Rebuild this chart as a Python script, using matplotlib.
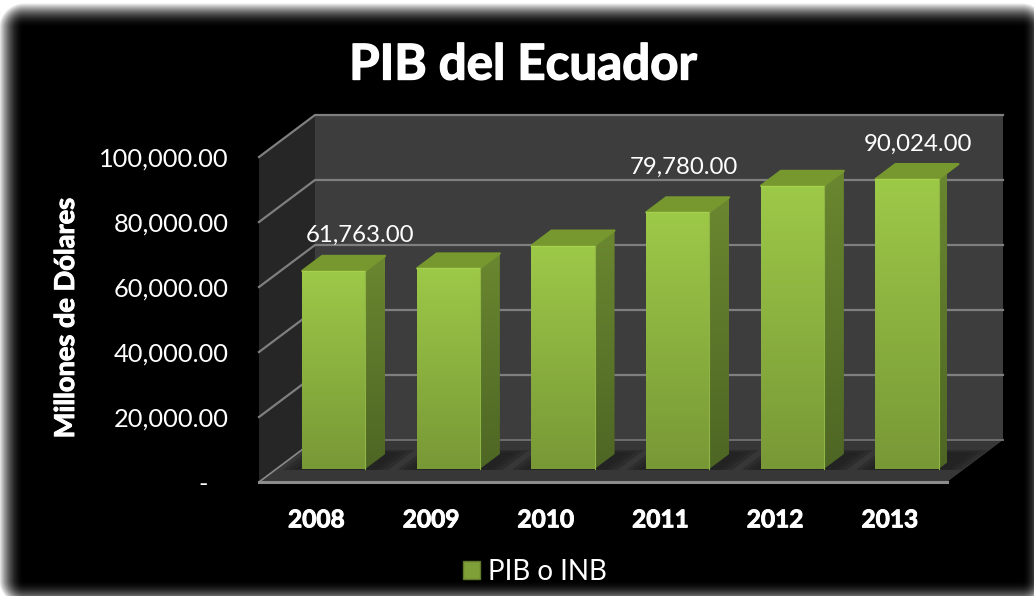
import numpy as np
import matplotlib
matplotlib.use('Agg')
import matplotlib.pyplot as plt
import matplotlib.patheffects as pe
from matplotlib.patches import Polygon, Patch

# DATA
years = ['2008', '2009', '2010', '2011', '2012', '2013']
pib = [61763, 62520, 69555, 79780, 87925, 90024]
y_ticks = [0, 20000, 40000, 60000, 80000, 100000]
y_labels = ['-   ', '20,000.00', '40,000.00', '60,000.00', '80,000.00', '100,000.00']
label_years = ['2008', '2011', '2013']
label_shift = [(26, 33), (6, 42), (11, 32)]   # px from the bar's front top centre

W, H = 1034, 596
plt.rcParams['font.family'] = ['Lato', 'DejaVu Sans']

fig = plt.figure(figsize=(W / 100, H / 100), dpi=100, facecolor='white')

# fondo: black panel with soft white border
bg = fig.add_axes([0, 0, 1, 1])
px, py = np.meshgrid(np.arange(W) + 0.5, np.arange(H) + 0.5)
ox = np.maximum(np.maximum(24 - px, px - 1022), 0)
oy = np.maximum(np.maximum(28 - py, py - 580), 0)
d = np.hypot(ox, oy)
shade = np.clip(d / 25, 0, 1) ** 2
bg.imshow(shade, cmap='gray', vmin=0, vmax=1, aspect='auto', interpolation='bilinear')
bg.axis('off')

# front plane of the chart box
ax = fig.add_axes([259 / W, (H - 482) / H, 688 / W, 325 / H])
ax.patch.set_alpha(0)

# depth 1 = back wall
DX = 56 / 688 * 6
DY = 42 / 325 * 100000
bold = [pe.withStroke(linewidth=0.7, foreground='white')]


def proj(x, y, depth):
    return (x + depth * DX, y + depth * DY)


def flat(verts, color, z, alpha=1.0, lw=0):
    ax.add_patch(Polygon(verts, closed=True, fc=color, ec=color if lw else 'none', lw=lw, alpha=alpha,
                         joinstyle='round', zorder=z, clip_on=False))


def gradient(verts, top, bottom, z):
    xs = [v[0] for v in verts]
    ys = [v[1] for v in verts]
    grad = np.linspace(0, 1, 128)[:, None, None]
    img = (1 - grad) * np.array(top)[None, None, :] + grad * np.array(bottom)[None, None, :]
    im = ax.imshow(img / 255, extent=[min(xs), max(xs), min(ys), max(ys)], aspect='auto', zorder=z)
    clip = Polygon(verts, closed=True, transform=ax.transData)
    im.set_clip_path(clip)


# walls
flat([proj(0, 0, 1), proj(6, 0, 1), proj(6, 100000, 1), proj(0, 100000, 1)], '#3d3d3d', 1)
flat([proj(0, 0, 0), proj(0, 0, 1), proj(0, 100000, 1), proj(0, 100000, 0)], '#262626', 1)
flat([proj(0, 0, 0), proj(6, 0, 0), proj(6, 0, 1), proj(0, 0, 1)], '#373737', 1)

# gridlines
for v in y_ticks:
    p0, p1, p2 = proj(0, v, 0), proj(0, v, 1), proj(6, v, 1)
    if v > 0:
        ax.plot([p0[0], p1[0], p2[0]], [p0[1], p1[1], p2[1]], color='#7f7f7f', lw=1.6,
                zorder=2, clip_on=False, solid_joinstyle='miter')
    else:
        ax.plot([p1[0], p2[0]], [p1[1], p2[1]], color='#6e6e6e', lw=1.4, zorder=2, clip_on=False)
        ax.plot([p0[0], p1[0]], [p0[1], p1[1]], color='#8a8a8a', lw=1.2, zorder=2, clip_on=False)
ax.plot([0, 6], [0, 0], color='#8c8c8c', lw=2.2, zorder=6, clip_on=False)

# bars
bar_w = 0.55
d0, d1 = 0.31, 0.667
bevel = 800   # the rounded top edge sits a little under the value
for i, v in enumerate(pib):
    l = i + 0.5 - bar_w / 2
    r = i + 0.5 + bar_w / 2
    v = v - bevel
    # soft shadow on the floor
    for grow in (0.16, 0.11, 0.06):
        flat([proj(l - grow, 0, d0 - 0.02), proj(r + grow + 0.05, 0, d0 - 0.02),
              proj(r + grow + 0.05, 0, d1 + grow * 0.6), proj(l - grow, 0, d1 + grow * 0.6)],
             '#1e1e1e', 3, alpha=0.4)
    # side
    gradient([proj(r, 0, d0), proj(r, 0, d1), proj(r, v, d1), proj(r, v, d0)],
             (106, 135, 48), (78, 102, 36), 4)
    # top
    flat([proj(l, v, d0), proj(r, v, d0), proj(r, v, d1), proj(l, v, d1)], '#76982f', 4, lw=1.5)
    # front
    gradient([proj(l, 0, d0), proj(r, 0, d0), proj(r, v, d0), proj(l, v, d0)],
             (157, 201, 72), (120, 152, 54), 5)
    a, b, c = proj(l, 0, d0), proj(r, v, d0), proj(l, v, d0)
    ax.plot([c[0], b[0]], [c[1], b[1]], color='#a6d04e', lw=1.0, zorder=5, clip_on=False)
    ax.plot([b[0], b[0]], [b[1], a[1]], color='#8fb545', lw=0.8, zorder=5, clip_on=False)

ax.set_xlim(0, 6)
ax.set_ylim(0, 100000)

# data labels
for yr, (sx, sy) in zip(label_years, label_shift):
    i = years.index(yr)
    top = proj(i + 0.5, pib[i], d0)
    ax.annotate(f'{pib[i]:,.2f}', xy=top, xytext=(sx * 0.72, sy * 0.72), textcoords='offset points',
                color='white', fontsize=17.3, ha='center', va='center', zorder=7, annotation_clip=False)

# axes
ax.set_xticks(np.arange(len(years)) + 0.5)
ax.set_xticklabels(years, color='white', fontsize=17.6, fontweight='bold', path_effects=bold)
ax.set_yticks(y_ticks)
ax.set_yticklabels(y_labels, color='white', fontsize=18.3)
ax.tick_params(axis='x', length=0, pad=19)
ax.tick_params(axis='y', length=0, pad=22)
for s in ax.spines.values():
    s.set_visible(False)

fig.text(66 / W, 1 - 318 / H, 'Millones de Dólares', color='white', fontsize=19.6, fontweight='bold',
         rotation=90, ha='center', va='center', path_effects=bold)
fig.text(523 / W, 1 - 65 / H, 'PIB del Ecuador', color='white', fontsize=35.5, fontweight='bold',
         ha='center', va='center', path_effects=[pe.withStroke(linewidth=1.0, foreground='white')])

handle = Patch(facecolor='#7f9f38', edgecolor='#5f7a2a', label='PIB o INB')
fig.legend(handles=[handle], loc='center', bbox_to_anchor=(535 / W, 1 - 572 / H), frameon=False,
           labelcolor='white', fontsize=20, handlelength=0.62, handleheight=0.62, handletextpad=0.3)

fig.savefig('out.png', dpi=100, facecolor='white')
